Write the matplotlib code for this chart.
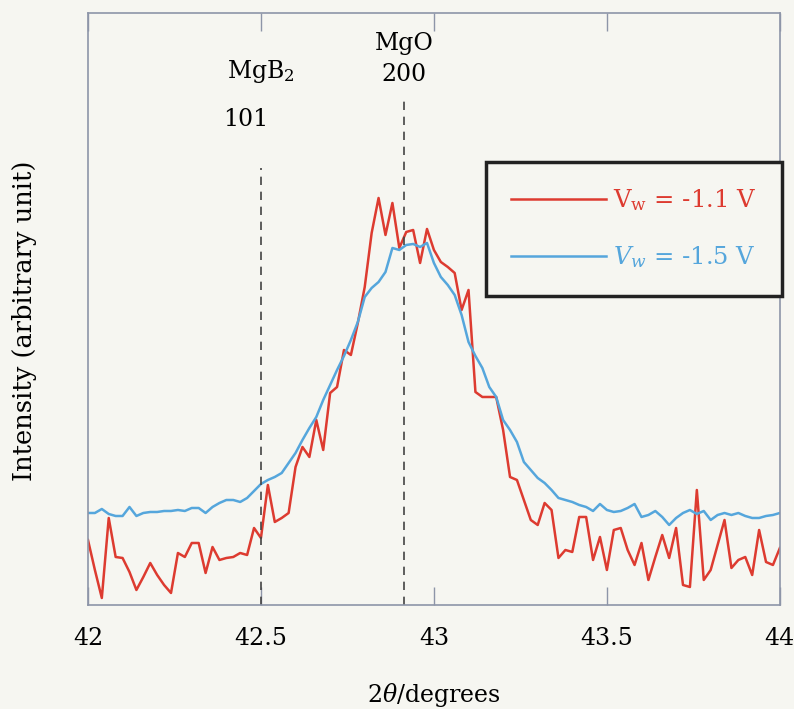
import numpy as np
import matplotlib
matplotlib.use("Agg")
import matplotlib.pyplot as plt

# 2theta grid (degrees), step 0.02
two_theta_start = 42.0
two_theta_step = 0.02

red_vw11 = [65, 35, 7, 87, 48, 47, 33, 15, 28, 42, 30, 20, 12, 52, 48, 62, 62, 32, 58, 45,
            47, 48, 52, 50, 77, 67, 120, 83, 87, 92, 138, 158, 148, 185, 155, 212, 218, 255, 250, 282,
            318, 372, 407, 370, 402, 357, 373, 375, 342, 376, 355, 343, 338, 332, 295, 315, 213, 208, 208, 208,
            175, 128, 125, 105, 85, 80, 102, 95, 47, 55, 53, 88, 88, 45, 68, 35, 75, 77, 55, 40,
            62, 25, 48, 70, 47, 77, 20, 18, 115, 25, 35, 60, 85, 37, 45, 48, 30, 75, 43, 40, 57]

blue_vw15 = [92, 92, 96, 91, 89, 89, 98, 89, 92, 93, 93, 94, 94, 95, 94, 97, 97, 92, 98, 102,
             105, 105, 103, 107, 114, 121, 125, 128, 132, 142, 152, 165, 177, 188, 205, 220, 235, 249, 265, 283,
             308, 317, 323, 333, 357, 355, 360, 361, 358, 362, 342, 328, 320, 310, 290, 263, 249, 237, 218, 208,
             185, 175, 163, 143, 135, 127, 122, 115, 107, 105, 103, 100, 98, 94, 101, 95, 93, 94, 97, 101,
             88, 90, 94, 88, 80, 87, 92, 95, 91, 94, 85, 90, 92, 90, 92, 89, 87, 87, 89, 90, 92]

peak_positions = [42.5, 42.913]
peak_tops = [437, 510]
xticks = [42, 42.5, 43, 43.5, 44]
xtick_labels = ["42", "42.5", "43", "43.5", "44"]

x = two_theta_start + two_theta_step * np.arange(len(red_vw11))

plt.rcParams['font.family'] = ['DejaVu Serif']
plt.rcParams['mathtext.fontset'] = 'dejavuserif'

bg = '#f6f6f1'
frame_col = '#8d95a8'
red = '#dd3b30'
blue = '#55a6dc'

fig = plt.figure(figsize=(7.94, 7.09), dpi=100, facecolor=bg)
ax = fig.add_axes([0.1108, 0.1467, 0.8714, 0.835])
ax.set_facecolor(bg)

ax.plot(x, red_vw11, color=red, lw=1.8, label=r'V$_{\mathrm{w}}$ = -1.1 V')
ax.plot(x, blue_vw15, color=blue, lw=1.8, label=r'$V_{w}$ = -1.5 V')

for px, top in zip(peak_positions, peak_tops):
    ax.plot([px, px], [0, top], color='#444444', lw=1.2, dashes=(5, 4))

ax.set_xlim(42, 44)
ax.set_ylim(0, 592)
ax.set_xticks(xticks)
ax.set_xticklabels(xtick_labels)
ax.set_yticks([])
ax.tick_params(axis='x', which='both', direction='in', top=True, bottom=True,
               length=13, width=1.0, color=frame_col, labelsize=17, pad=16)
for s in ax.spines.values():
    s.set_color(frame_col)
    s.set_linewidth(1.2)

ax.set_xlabel(r'2$\theta$/degrees', fontsize=17, labelpad=22)
ax.set_ylabel('Intensity (arbitrary unit)', fontsize=18.5)
ax.yaxis.set_label_coords(-0.073, 0.48)

ax.text(42.5, 533, r'MgB$_2$', fontsize=17, ha='center', va='center')
ax.text(42.455, 485, '101', fontsize=17, ha='center', va='center')
ax.text(42.913, 561, 'MgO', fontsize=17, ha='center', va='center')
ax.text(42.913, 530, '200', fontsize=17, ha='center', va='center')

leg = ax.legend(loc='upper right', bbox_to_anchor=(1.003, 0.749), fontsize=17.5,
                handlelength=3.9, handletextpad=0.3, labelspacing=1.3,
                borderpad=1.05, borderaxespad=0, fancybox=False, frameon=True,
                labelcolor='linecolor')
leg.get_frame().set_edgecolor('#222222')
leg.get_frame().set_linewidth(2.5)
leg.get_frame().set_facecolor(bg)
leg.get_frame().set_alpha(1)

fig.savefig('out.png', dpi=100, facecolor=bg)
